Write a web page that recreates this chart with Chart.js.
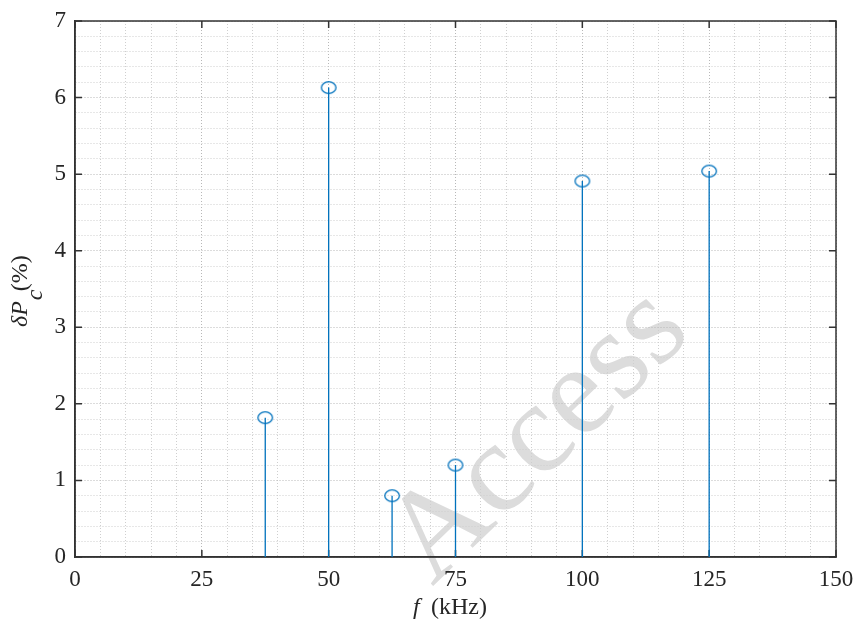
<!DOCTYPE html>
<html>
<head>
<meta charset="utf-8">
<script src="https://cdn.jsdelivr.net/npm/chart.js@4.4.0/dist/chart.umd.min.js"></script>
<style>
html, body { margin: 0; padding: 0; background: #fff; }
</style>
</head>
<body>
<canvas id="myChart" width="856" height="621"></canvas>
<script>
// stem positions (kHz) and heights (%)
let freqs = [37.5, 50, 62.5, 75, 100, 125];
let deltaPc = [1.82, 6.13, 0.80, 1.20, 4.91, 5.04];
// labelled ticks
let xTicks = [0, 25, 50, 75, 100, 125, 150];
let yTicks = [0, 1, 2, 3, 4, 5, 6, 7];

let blue = '#0072BD';
let axisColor = '#333333';
let serif = '"Liberation Serif", "Times New Roman", serif';

// stems: (f,0) -> (f,v), broken by a null point
let stemData = [];
freqs.forEach((f, i) => {
    stemData.push({ x: f, y: 0 });
    stemData.push({ x: f, y: deltaPc[i] });
    stemData.push({ x: f, y: null });
});
let markerData = freqs.map((f, i) => ({ x: f, y: deltaPc[i] }));

// open marker, a bit wider than tall like in the figure
let marker = document.createElement('canvas');
marker.width = 18;
marker.height = 15;
let mctx = marker.getContext('2d');
mctx.strokeStyle = blue;
mctx.lineWidth = 1.3;
mctx.beginPath();
mctx.ellipse(9, 7.5, 7.3, 5.8, 0, 0, Math.PI * 2);
mctx.stroke();

function isMajor(list, v) {
    return list.some(t => Math.abs(t - v) < 1e-6);
}

// watermark (under the grid), box, inner tick marks and axis titles
const extras = {
    id: 'extras',
    beforeDraw(chart) {
        const ctx = chart.ctx;
        ctx.save();
        ctx.translate(693, 335);
        ctx.rotate(-44 * Math.PI / 180);
        ctx.font = '128px ' + serif;
        ctx.fillStyle = '#dcdcdc';
        ctx.textAlign = 'right';
        ctx.fillText('Access', 0, 0);
        ctx.restore();
    },
    beforeDatasetsDraw(chart) {
        const { ctx, chartArea: a, scales: { x, y } } = chart;
        ctx.save();
        ctx.strokeStyle = axisColor;
        ctx.lineWidth = 1.5;
        ctx.strokeRect(a.left, a.top, a.right - a.left, a.bottom - a.top);
        ctx.beginPath();
        xTicks.forEach(v => {
            let px = x.getPixelForValue(v);
            ctx.moveTo(px, a.bottom); ctx.lineTo(px, a.bottom - 7);
            ctx.moveTo(px, a.top); ctx.lineTo(px, a.top + 7);
        });
        yTicks.forEach(v => {
            let py = y.getPixelForValue(v);
            ctx.moveTo(a.left, py); ctx.lineTo(a.left + 7, py);
            ctx.moveTo(a.right, py); ctx.lineTo(a.right - 7, py);
        });
        ctx.stroke();
        ctx.restore();
    },
    afterDraw(chart) {
        const ctx = chart.ctx;
        ctx.save();
        ctx.fillStyle = '#262626';
        ctx.textBaseline = 'alphabetic';
        // x title
        ctx.font = 'italic 24px ' + serif;
        ctx.fillText('f', 413, 614);
        ctx.font = '24px ' + serif;
        ctx.fillText('(kHz)', 431, 614);
        // y title
        ctx.translate(27, 327);
        ctx.rotate(-Math.PI / 2);
        ctx.font = 'italic 24px ' + serif;
        ctx.fillText('\u03B4P', 0, 0);
        let w = ctx.measureText('\u03B4P').width;
        ctx.fillText('c', w + 1, 15);
        ctx.font = '24px ' + serif;
        ctx.fillText('(%)', w + 10, 0);
        ctx.restore();
    }
};

let ctx = document.getElementById('myChart').getContext('2d');
let myChart = new Chart(ctx, {
    type: 'scatter',
    data: {
        datasets: [
            {
                data: stemData,
                showLine: true,
                spanGaps: false,
                borderColor: blue,
                borderWidth: 1.3,
                pointRadius: 0
            },
            {
                data: markerData,
                showLine: false,
                pointStyle: marker,
                pointRadius: 7,
                borderColor: blue
            }
        ]
    },
    options: {
        responsive: false,
        animation: false,
        layout: { padding: { top: 21, right: 20, left: 0, bottom: 0 } },
        plugins: { legend: { display: false }, tooltip: { enabled: false } },
        scales: {
            x: {
                type: 'linear',
                min: 0,
                max: 150,
                ticks: {
                    stepSize: 5,
                    autoSkip: false,
                    maxRotation: 0,
                    padding: 9,
                    color: '#262626',
                    font: { family: serif, size: 23 },
                    callback: v => isMajor(xTicks, v) ? v : ''
                },
                grid: {
                    drawTicks: false,
                    lineWidth: 1,
                    color: c => isMajor(xTicks, c.tick.value) ? '#b8b8b8' : '#cfcfcf'
                },
                border: { color: axisColor, width: 1.5, dash: [1, 2] },
                afterFit(s) { s.height = 64; s.paddingLeft = 0; s.paddingRight = 0; }
            },
            y: {
                type: 'linear',
                min: 0,
                max: 7,
                ticks: {
                    stepSize: 0.2,
                    autoSkip: false,
                    padding: 9,
                    color: '#262626',
                    font: { family: serif, size: 23 },
                    callback: v => isMajor(yTicks, v) ? Math.round(v) : ''
                },
                grid: {
                    drawTicks: false,
                    lineWidth: 1,
                    color: c => isMajor(yTicks, c.tick.value) ? '#b8b8b8' : '#cfcfcf'
                },
                border: { color: axisColor, width: 1.5, dash: [1, 2] },
                afterFit(s) { s.width = 75; s.paddingTop = 0; s.paddingBottom = 0; }
            }
        }
    },
    plugins: [extras]
});
</script>
</body>
</html>
